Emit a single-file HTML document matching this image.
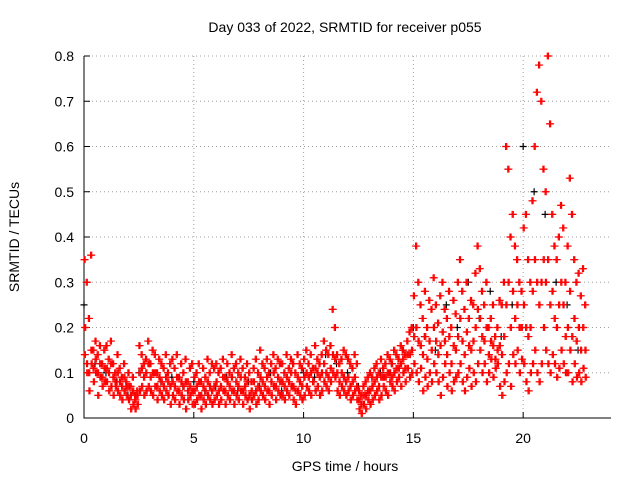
<!DOCTYPE html>
<html><head><meta charset="utf-8"><style>
body{margin:0;background:#fff}
svg{display:block;font-family:"Liberation Sans",sans-serif}
</style></head><body>
<svg id="chart" width="640" height="480" viewBox="0 0 640 480">
<rect width="640" height="480" fill="#fff"/>
<text x="345" y="32" font-size="14" text-anchor="middle">Day 033 of 2022, SRMTID for receiver p055</text>
<text transform="translate(19,237) rotate(-90)" font-size="14" text-anchor="middle">SRMTID / TECUs</text>
<text x="345" y="471" font-size="14" text-anchor="middle">GPS time / hours</text>
<g id="grid"></g>
<g id="axes"></g>
<g id="marks"></g>
</svg>
<script>
const xTicks=[0,5,10,15,20];
const yTicks=[0,0.1,0.2,0.3,0.4,0.5,0.6,0.7,0.8];
const yTickLabels=["0","0.1","0.2","0.3","0.4","0.5","0.6","0.7","0.8"];
const redA=[.35,.3,.22,.36,.15,.17,.14,.16,.12,.15,.16,.13,.17,.12,.1,.14,.11,.09,.12,.08,.1,.07,.09,.05,.06,.16,.14,.12,.13,.17,.12,.15,.14,.1,.13,.12,.11,.14,.1,.12,.13,.11,.14,.09,.12,.1,.13,.08,.11,.12,.09,.1,.12,.08,.11,.09,.13,.1,.12,.11,.12,.1,.11,.13,.09,.12,.1,.14,.11,.12,.1,.13,.11,.09,.12,.1,.08,.11,.13,.1,.15,.12,.11,.13,.1,.12,.14,.11,.13,.12,.12,.1,.14,.11,.13,.12,.1,.14,.12,.11,.13,.15,.12,.14,.11,.16,.13,.12,.14,.17,.15,.14,.16,.24,.2,.14,.12,.13,.15,.14,.13,.12,.11,.14,.12,.06,.05,.07,.08,.09,.1,.09,.11,.12,.1,.13,.11,.12,.14,.13,.12,.15,.14,.13,.16,.15,.14,.17,.19,.2,.27,.38,.3,.25,.22,.28,.2,.26,.24,.31,.25,.21,.27,.3,.24,.22,.28,.2,.26,.23,.3,.35,.28,.24,.3,.22,.26,.25,.32,.38,.33,.28,.25,.3,.2,.22,.25,.18,.2,.26,.25,.3,.6,.55,.4,.45,.38,.35,.3,.28,.42,.45,.35,.3,.48,.6,.72,.78,.7,.55,.5,.8,.65,.45,.38,.35,.4,.47,.42,.3,.38,.53,.45,.35,.3,.32,.27,.33,.25];
const redB=[.2,.1,.06,.12,.08,.1,.05,.09,.07,.08,.08,.06,.07,.05,.07,.06,.05,.04,.06,.05,.04,.02,.03,.02,.03,.06,.07,.05,.06,.07,.06,.05,.07,.04,.06,.05,.04,.06,.05,.03,.05,.04,.06,.03,.05,.04,.02,.04,.05,.03,.03,.04,.05,.02,.04,.03,.05,.04,.03,.04,.05,.03,.04,.06,.03,.05,.04,.06,.03,.05,.04,.06,.03,.05,.04,.02,.04,.05,.03,.04,.06,.05,.04,.06,.03,.05,.07,.04,.06,.05,.05,.04,.06,.05,.07,.04,.03,.06,.05,.04,.05,.07,.06,.05,.08,.06,.07,.05,.06,.08,.07,.06,.08,.1,.09,.06,.05,.07,.06,.05,.06,.04,.05,.06,.04,.02,.01,.03,.02,.04,.03,.04,.05,.06,.04,.05,.07,.06,.05,.08,.07,.06,.08,.09,.07,.1,.08,.11,.09,.1,.12,.1,.08,.11,.06,.09,.07,.1,.08,.12,.1,.08,.05,.09,.12,.07,.1,.06,.08,.09,.1,.12,.08,.06,.09,.11,.07,.1,.08,.12,.15,.1,.12,.08,.1,.13,.09,.11,.12,.07,.05,.08,.1,.12,.07,.14,.12,.15,.1,.13,.12,.08,.06,.1,.12,.15,.1,.08,.12,.2,.15,.12,.1,.14,.12,.09,.11,.15,.12,.1,.1,.15,.08,.12,.09,.1,.08,.11,.09];
const redC=[.14,.12,.1,.15,.11,.13,.1,.12,.09,.11,.11,.1,.12,.09,.08,.1,.08,.07,.09,.07,.07,.05,.06,.04,.05,.1,.11,.09,.1,.12,.09,.1,.1,.07,.09,.08,.07,.09,.08,.07,.08,.07,.09,.06,.08,.07,.08,.06,.07,.06,.06,.07,.08,.05,.07,.06,.08,.07,.06,.07,.08,.06,.07,.09,.06,.08,.07,.09,.06,.08,.07,.09,.06,.07,.08,.05,.06,.08,.06,.07,.09,.08,.07,.09,.06,.08,.1,.07,.09,.08,.08,.07,.09,.08,.1,.07,.06,.09,.08,.07,.09,.1,.09,.1,.08,.11,.1,.09,.1,.12,.1,.09,.11,.14,.13,.1,.08,.1,.09,.08,.09,.07,.08,.09,.07,.04,.03,.05,.05,.06,.06,.07,.08,.09,.07,.09,.09,.09,.1,.1,.09,.1,.11,.11,.12,.13,.11,.14,.14,.15,.18,.2,.17,.16,.14,.18,.13,.17,.15,.2,.17,.14,.16,.19,.17,.14,.18,.12,.16,.15,.18,.22,.17,.14,.19,.16,.15,.17,.2,.24,.22,.18,.17,.2,.14,.17,.16,.13,.15,.16,.14,.18,.25,.3,.2,.28,.22,.25,.2,.2,.25,.2,.18,.2,.28,.35,.3,.25,.3,.35,.3,.35,.25,.28,.22,.2,.25,.3,.25,.18,.2,.28,.18,.22,.17,.2,.15,.2,.15];
const black=[.25,.12,.1,.08,.05,.1,.12,.08,.09,.07,.08,.06,.07,.09,.06,.08,.07,.1,.06,.12,.1,.09,.14,.12,.1,.07,.06,.1,.12,.15,.2,.18,.15,.25,.2,.3,.22,.28,.18,.25,.6,.5,.45,.3,.25,.15];
const redStep=0.1, blackStep=0.5;
const X0=84,X1=611,Y0=418,Y1=56;
const xs=t=>X0+(X1-X0)*t/24;
const ys=v=>Y0-(Y0-Y1)*v/0.8;
const NS="http://www.w3.org/2000/svg";
function mk(tag,attrs,parent){const e=document.createElementNS(NS,tag);for(const k in attrs)e.setAttribute(k,attrs[k]);parent.appendChild(e);return e;}
const grid=document.getElementById('grid'),axes=document.getElementById('axes'),marks=document.getElementById('marks');
yTicks.forEach((v,i)=>{
  if(v>0){const l=mk('line',{x1:X0,x2:X1,y1:ys(v),y2:ys(v),stroke:'#a0a0a0','stroke-dasharray':'1,3','stroke-width':1},grid);
  
  }
  const t=mk('text',{x:X0-10,y:ys(v)+5,'font-size':14,'text-anchor':'end'},axes);t.textContent=yTickLabels[i];
  
  
  mk('line',{x1:X0,x2:X0+6,y1:ys(v),y2:ys(v),stroke:'#000'},axes);
});
xTicks.forEach(v=>{
  if(v>0){const l=mk('line',{x1:xs(v),x2:xs(v),y1:Y1,y2:Y0,stroke:'#a0a0a0','stroke-dasharray':'1,3','stroke-width':1},grid);
  
  }
  const t=mk('text',{x:xs(v),y:Y0+25,'font-size':14,'text-anchor':'middle'},axes);t.textContent=String(v);
  
  
  mk('line',{x1:xs(v),x2:xs(v),y1:Y0,y2:Y0-6,stroke:'#000'},axes);
});
mk('path',{d:`M${X0},${Y1}V${Y0}H${X1}`,stroke:'#000',fill:'none'},axes);
function plot(arr,step,offset,color,name){
  let d='';
  arr.forEach((v,i)=>{const x=xs(i*step+offset),y=ys(v);d+=`M${x-3.5},${y}h7M${x},${y-3.5}v7`;});
  const p=mk('path',{d:d,stroke:color,'stroke-width':1.2,fill:'none'},marks);
  
  
}
plot(black,blackStep,0,'#000','black-series');
plot(redA,redStep,0,'#ff0000','red-series-a');
plot(redA,redStep,0.05,'#ff0000','red-series-a-late');
plot(redB,redStep,0.025,'#ff0000','red-series-b');
plot(redB,redStep,0.075,'#ff0000','red-series-b-late');
plot(redC,redStep,0.0125,'#ff0000','red-series-c');
plot(redC,redStep,0.0625,'#ff0000','red-series-c-late');
</script>
</body></html>
